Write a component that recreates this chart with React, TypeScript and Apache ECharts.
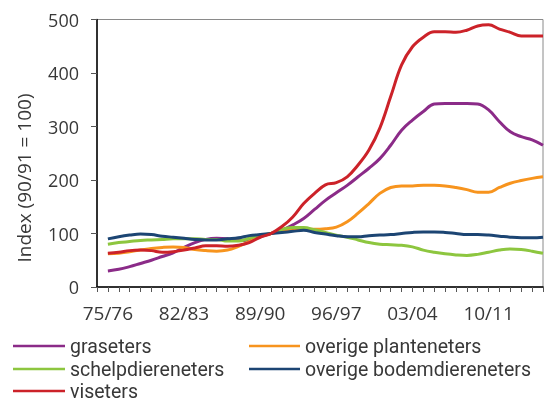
import React, { useEffect, useRef } from "react";
import * as echarts from "echarts";

const categories = [
  "74/75", "75/76", "76/77", "77/78", "78/79", "79/80", "80/81", "81/82", "82/83", "83/84",
  "84/85", "85/86", "86/87", "87/88", "88/89", "89/90", "90/91", "91/92", "92/93", "93/94",
  "94/95", "95/96", "96/97", "97/98", "98/99", "99/00", "00/01", "01/02", "02/03", "03/04",
  "04/05", "05/06", "06/07", "07/08", "08/09", "09/10", "10/11", "11/12", "12/13", "13/14",
  "14/15", "15/16",
];

const graseters = [
  null, 30, 33, 38, 44, 50, 57, 64, 74, 83, 89, 91, 90, 87, 88, 94, 100, 106, 116, 128,
  145, 162, 176, 190, 206, 222, 240, 265, 293, 312, 328, 342, 343, 343, 343, 342, 331, 309, 290, 281,
  275, 265,
];
const overigePlanteneters = [
  null, 62, 63, 66, 69, 72, 74, 75, 74, 70, 68, 67, 69, 76, 85, 95, 100, 105, 107, 108,
  108, 109, 112, 122, 138, 156, 175, 186, 189, 189, 190, 190, 189, 186, 182, 177, 177, 186, 194, 199,
  203, 206,
];
const schelpdiereneters = [
  null, 80, 83, 85, 87, 88, 89, 90, 90, 90, 89, 89, 86, 86, 91, 97, 100, 108, 111, 111,
  107, 102, 97, 93, 88, 83, 80, 79, 78, 75, 69, 65, 62, 60, 59, 61, 65, 69, 71, 70,
  67, 63,
];
const overigeBodemdiereneters = [
  null, 90, 94, 97, 99, 98, 95, 93, 91, 89, 88, 88, 90, 92, 96, 98, 100, 102, 104, 106,
  102, 99, 96, 94, 94, 96, 97, 98, 100, 102, 103, 103, 102, 100, 98, 98, 97, 95, 93, 92,
  92, 93,
];
const viseters = [
  null, 63, 65, 68, 69, 68, 65, 66, 69, 73, 77, 77, 76, 78, 83, 93, 100, 113, 131, 156,
  175, 191, 195, 206, 228, 256, 297, 356, 415, 449, 467, 477, 477, 476, 480, 488, 490, 482, 476, 469,
  469, 469,
];

const yTicks = [0, 100, 200, 300, 400, 500];

const seriesDefs = [
  { name: "graseters", data: graseters, color: "#8B2B88" },
  { name: "overige planteneters", data: overigePlanteneters, color: "#F7941E" },
  { name: "schelpdiereneters", data: schelpdiereneters, color: "#8DC63F" },
  { name: "overige bodemdiereneters", data: overigeBodemdiereneters, color: "#1C4573" },
  { name: "viseters", data: viseters, color: "#CC2229" },
];

const legendPos = [
  { left: 13, top: 336 },
  { left: 249, top: 336 },
  { left: 13, top: 359 },
  { left: 249, top: 359 },
  { left: 13, top: 381 },
];

const FONT = "Open Sans";
const LEGEND_FONT = "Roboto";
const TEXT = "#383838";

export default function App() {
  const ref = useRef<HTMLDivElement>(null);
  useEffect(() => {
    if (!ref.current) return;
    const chart = echarts.init(ref.current, undefined, { renderer: "svg" });
    chart.setOption({
      animation: false,
      grid: {
        left: 97,
        right: 15,
        top: 19.5,
        bottom: 115,
        show: true,
        borderColor: "#8a8a8a",
        borderWidth: 1,
        backgroundColor: "transparent",
      },
      legend: seriesDefs.map((s, i) => ({
        data: [s.name],
        left: legendPos[i].left,
        top: legendPos[i].top,
        padding: 0,
        icon: "rect",
        itemWidth: i % 2 === 0 ? 52 : 51,
        itemHeight: 2.5,
        selectedMode: false,
        textStyle: { fontFamily: LEGEND_FONT, fontSize: 19.5, lineHeight: 19, color: TEXT },
      })),
      graphic: [
        {
          type: "text",
          x: 24,
          y: 178,
          rotation: Math.PI / 2,
          style: {
            text: "Index (90/91 = 100)",
            fontFamily: FONT,
            fontSize: 19,
            fill: TEXT,
            align: "center",
            verticalAlign: "middle",
            textAlign: "center",
            textVerticalAlign: "middle",
          },
        },
      ],
      xAxis: {
        type: "category",
        data: categories,
        boundaryGap: false,
        axisLine: { lineStyle: { color: "#000", width: 1.5 } },
        axisTick: { show: true, interval: 0, length: 5, lineStyle: { color: "#555" } },
        axisLabel: {
          interval: (index: number) => index % 7 === 1,
          margin: 16,
          fontFamily: FONT,
          fontSize: 19,
          color: TEXT,
        },
        splitLine: { show: false },
      },
      yAxis: {
        type: "value",
        min: yTicks[0],
        max: yTicks[yTicks.length - 1],
        interval: 100,
        axisLine: { show: true, lineStyle: { color: "#000", width: 1.5 } },
        axisTick: { show: true, length: 6, lineStyle: { color: "#555" } },
        axisLabel: { margin: 18, fontFamily: FONT, fontSize: 18, color: TEXT },
        splitLine: { show: false },
      },
      series: seriesDefs.map((s) => ({
        name: s.name,
        type: "line",
        data: s.data,
        smooth: 0.4,
        showSymbol: false,
        symbol: "none",
        lineStyle: { width: 3, color: s.color },
        itemStyle: { color: s.color },
      })),
    });
    return () => chart.dispose();
  }, []);
  return (
    <div
      ref={ref}
      style={{ position: "fixed", left: 0, top: 0, width: 558, height: 402 }}
    />
  );
}
